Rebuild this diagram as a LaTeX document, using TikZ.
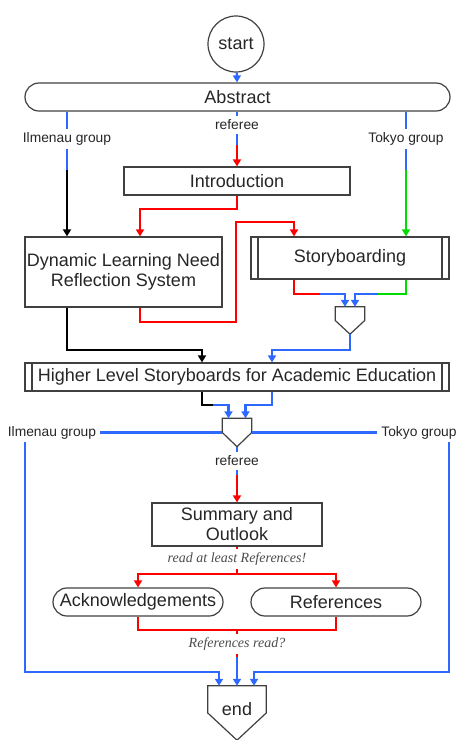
\documentclass[tikz,border=0pt]{standalone}
\usepackage{fontspec}
\setmainfont{Liberation Sans}
\newfontfamily\remarkfont{Liberation Serif}
\usetikzlibrary{positioning,calc,shapes,arrows.meta}

\definecolor{flowblue}{RGB}{45,105,255}
\definecolor{flowred}{RGB}{255,0,0}
\definecolor{flowgreen}{RGB}{0,220,0}

\begin{document}
\begin{tikzpicture}[x=1pt,y=-1pt,>={Triangle[length=7pt,width=8pt]}]
    \tikzstyle{every node}=[font=\fontsize{18}{20}\selectfont,text=black!85,align=center,inner sep=0]
    \tikzstyle{box}=[draw=black!75,line width=1.2pt,rectangle]
    \tikzstyle{rbox}=[box,rounded corners=14]
    \tikzstyle{process}=[box,path picture={
        \draw[black!75,line width=1.2pt]
            ([xshift=7]path picture bounding box.north west) -- ([xshift=7]path picture bounding box.south west)
            ([xshift=-7]path picture bounding box.north east) -- ([xshift=-7]path picture bounding box.south east);}]
    \tikzstyle{merge}=[rectangle,draw=none]
    \tikzstyle{mergeline}=[draw=black!75,line width=1.2pt,line join=miter]
    \tikzstyle{note}=[font=\fontsize{13.8}{16}\selectfont,fill=white,inner sep=4]
    \tikzstyle{remark}=[note,text=black!70,font=\remarkfont\itshape\fontsize{14}{16}\selectfont]
    \tikzstyle{flow}=[line width=2.2pt]
    \useasboundingbox (0,0) rectangle (458,740);
    {
        \node[box,circle,minimum size=56] (start) at (236,44) {start};
        \node[rbox,minimum width=425,minimum height=28] (abstract) at (237.5,97) {Abstract};
        \node[box,minimum width=226,minimum height=28] (intro) at (237,181) {Introduction};
        \node[box,minimum width=197,minimum height=70] (dlnrs) at (123.5,272) {Dynamic Learning Need\\Reflection System};
        \node[process,minimum width=198,minimum height=42] (story) at (350,258) {Storyboarding};
        \node[merge,minimum width=29,minimum height=27] (join1) at (350,320.5) {};
        \node[process,minimum width=424,minimum height=28] (higher) at (237,377) {Higher Level Storyboards for Academic Education};
        \node[merge,minimum width=29,minimum height=28] (join2) at (237,432.5) {};
        \node[box,minimum width=170,minimum height=43] (summary) at (237,524.5) {Summary and\\Outlook};
        \node[rbox,minimum width=170,minimum height=28] (ack) at (138,602) {Acknowledgements};
        \node[rbox,minimum width=170,minimum height=28] (refs) at (336,602) {References};
        \node[merge,minimum width=58,minimum height=54] (end) at (237,713) {};
        \node (endT) at (237,709) {end};

        % outlines of the joins
        \foreach \j in {join1,join2,end}
            \draw[mergeline] (\j.north west) -- (\j.north east) -- (\j.east) -- (\j.south) -- (\j.west) -- cycle;

        \coordinate (ilmA) at (67,170);
        \coordinate (refA) at (237,145);
        \coordinate (tokA) at (406,170);
        \coordinate (introD) at (140,209);
        \coordinate (loopA) at (140,322);
        \coordinate (loopB) at (236,322);
        \coordinate (loopC) at (294,222);
        \coordinate (sbR) at (320,294);
        \coordinate (sbG) at (378,294);
        \coordinate (hlsA) at (202,350);
        \coordinate (hlsB) at (272,350);
        \coordinate (hlA) at (213,405);
        \coordinate (hlB) at (272,405);
        \coordinate (ilmC) at (25,442);
        \coordinate (tokC) at (449,442);
        \coordinate (endL) at (219,672);
        \coordinate (endR) at (254,672);
        \coordinate (refB) at (237,475);
        \coordinate (split) at (237,574);
        \coordinate (collect) at (237,630);
        \coordinate (refC) at (237,657);

        % abstract and the three readers
        \draw[flow,flowblue,->] (start) -- (abstract);
        \draw[flow,flowblue] (abstract.south -| ilmA) -- (ilmA);
        \draw[flow,->] (ilmA) -- (ilmA |- dlnrs.north);
        \draw[flow,flowblue] (abstract.south -| refA) -- (refA);
        \draw[flow,flowred,->] (refA) -- (intro.north);
        \draw[flow,flowblue] (abstract.south -| tokA) -- (tokA);
        \draw[flow,flowgreen,->] (tokA) -- (tokA |- story.north);

        \draw[flow,flowred,->] (intro.south) |- (introD) -- (introD |- dlnrs.north);
        \draw[flow,flowred,->] (dlnrs.south -| loopA) |- (loopB) |- (loopC) -- (loopC |- story.north);

        % storyboarding to the first join
        \draw[flow,flowred] (story.south -| loopC) |- (sbR);
        \draw[flow,flowblue,->] (sbR) -| ([xshift=-5]join1.north);
        \draw[flow,flowgreen] (story.south -| tokA) |- (sbG);
        \draw[flow,flowblue,->] (sbG) -| ([xshift=5]join1.north);

        \draw[flow,flowblue,->] (join1.south) |- (hlsB) -- (hlsB |- higher.north);
        \draw[flow,->] (dlnrs.south -| ilmA) |- (hlsA) -- (hlsA |- higher.north);

        % higher level storyboards to the second join
        \draw[flow] (higher.south -| hlsA) |- (hlA);
        \draw[flow,flowblue,->] (hlA) -| ([xshift=-8.5]join2.north);
        \draw[flow,flowblue,->] (higher.south -| hlB) -- (hlB) -| ([xshift=8.5]join2.north);

        \node[note,fill=none] (ilmB) at (52,432.5) {Ilmenau group};
        \node[note,fill=none] (tokB) at (419,432.5) {Tokyo group};
        \draw[flow,flowblue] (join2.west) -- (join2.west -| ilmB.east);
        \draw[flow,flowblue] (join2.east) -- (join2.east -| tokB.west);
        \draw[flow,flowblue,->] (ilmC) |- (endL) -- (endL |- end.north);
        \draw[flow,flowblue,->] (tokC) |- (endR) -- (endR |- end.north);

        % referee path
        \draw[flow,flowblue] (join2.south) -- (refB);
        \draw[flow,flowred,->] (refB) -- (summary.north);
        \draw[flow,flowred] (summary.south) -- (split);
        \draw[flow,flowred,->] (split) -| (ack.north);
        \draw[flow,flowred,->] (split) -| (refs.north);
        \draw[flow,flowred] (ack.south) |- (collect) -| (refs.south);
        \draw[flow,flowred] (collect) -- (refC);
        \draw[flow,flowblue,->] (refC) -- (end.north);

        % labels on the lines
        \node[note] (ilmL) at (67,139) {Ilmenau group};
        \node[note] (refL) at (237,125) {referee};
        \node[note] (tokL) at (406,139) {Tokyo group};
        \node[note] (refM) at (237,461) {referee};
        \node[remark] (readL) at (237,559) {read at least References!};
        \node[remark] (readQ) at (237,644) {References read?};
    }
\end{tikzpicture}
\end{document}
